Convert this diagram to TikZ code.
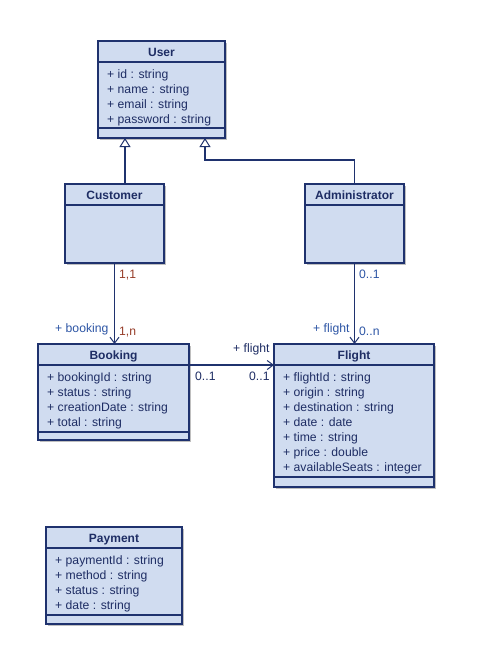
\documentclass[tikz,border=0pt]{standalone}
\usepackage{fontspec}
\setmainfont{Liberation Sans}
\usetikzlibrary{arrows.meta,shadows}
\definecolor{navy}{RGB}{31,50,110}
\definecolor{txt}{RGB}{30,45,100}
\definecolor{boxfill}{RGB}{208,220,240}
\definecolor{brownlbl}{RGB}{150,60,40}
\definecolor{bluelbl}{RGB}{45,85,165}
\tikzset{
  cls/.style={draw=navy, fill=boxfill, line width=1.1pt, anchor=north west,
    inner sep=0pt, outer sep=0pt,
    drop shadow={shadow xshift=2pt, shadow yshift=-2pt, fill=black!25, opacity=1}},
  title/.style={font=\fontsize{12}{14}\selectfont\bfseries, text=txt, anchor=base, inner sep=0pt},
  attr/.style={font=\fontsize{12.2}{14}\selectfont, text=txt, anchor=base west, inner sep=0pt},
  sep/.style={draw=navy, line width=1.1pt},
  lbl/.style={font=\fontsize{12.2}{14}\selectfont, anchor=base west, inner sep=0pt},
  conn/.style={draw=navy, line width=1.1pt},
  assoc/.style={conn, -{Straight Barb[length=6pt,width=9pt,line width=1pt]}},
  gen/.style={conn, -{Triangle[open,length=9pt,width=11pt,fill=white,line width=1pt]}},
}
\newcommand\umlclass[7]{% name, x, y, w, h, title, bottomsep offset
  \node[cls, minimum width=#4pt, minimum height=#5pt] (#1) at (#2,#3) {};
  \draw[sep] ([yshift=-21pt]#1.north west) -- ([yshift=-21pt]#1.north east);
  \draw[sep] ([yshift=#7pt]#1.south west) -- ([yshift=#7pt]#1.south east);
  \node[title] (#1-t) at ([yshift=-15pt]#1.north) {#6};
}
\newcommand\umlattrs[2]{%
  \foreach \t [count=\i] in {#2}
    \node[attr] (#1-a\i) at ([xshift=9pt,yshift={-(22.5+15*\i)*1pt}]#1.north west) {\t};
}
\begin{document}
\begin{tikzpicture}[x=1pt,y=-1pt]
\useasboundingbox[fill=white] (0,0) rectangle (479,656);

\umlclass{user}{98}{41}{127}{97}{User}{10}
\umlattrs{user}{+ id : string, + name : string, + email : string, + password : string}

\node[cls, minimum width=99pt, minimum height=79pt] (cust) at (65,184) {};
\draw[sep] ([yshift=-21pt]cust.north west) -- ([yshift=-21pt]cust.north east);
\node[title] (cust-t) at ([yshift=-15pt]cust.north) {Customer};

\node[cls, minimum width=99pt, minimum height=79pt] (admin) at (305,184) {};
\draw[sep] ([yshift=-21pt]admin.north west) -- ([yshift=-21pt]admin.north east);
\node[title] (admin-t) at ([yshift=-15pt]admin.north) {Administrator};

\umlclass{booking}{38}{344}{151}{96}{Booking}{8}
\umlattrs{booking}{+ bookingId : string, + status : string, + creationDate : string, + total : string}

\umlclass{flight}{274}{344}{160}{143}{Flight}{10}
\umlattrs{flight}{+ flightId : string, + origin : string, + destination : string, + date : date, + time : string, + price : double, + availableSeats : integer}

\umlclass{payment}{46}{527}{136}{97}{Payment}{9}
\umlattrs{payment}{+ paymentId : string, + method : string, + status : string, + date : string}

% generalizations
\draw[gen] ([xshift=10.5pt]cust.north) -- ([xshift=-36.5pt]user.south);
\coordinate (bendA) at ([yshift=24pt]admin.north);
\coordinate (bendB) at ([xshift=43.5pt]user.south |- bendA);
\draw[gen] (admin.north) -- (bendA) -- (bendB) -- ([xshift=43.5pt]user.south);

% associations
\draw[assoc] (cust.south) -- (cust.south |- booking.north);
\draw[assoc] (admin.south) -- (admin.south |- flight.north);
\draw[assoc] ([yshift=-21pt]booking.north east) -- ([yshift=-21pt]flight.north west);

% labels
\node[lbl, text=brownlbl] (l11) at (119,278.5) {1,1};
\node[lbl, text=brownlbl] (l1n) at (119,335) {1,n};
\node[lbl, text=bluelbl] (lbk) at (55,332.5) {+ booking};
\node[lbl, text=bluelbl] (la01) at (359,278.5) {0..1};
\node[lbl, text=bluelbl] (la0n) at (359,335) {0..n};
\node[lbl, text=bluelbl] (laf) at (313,332.5) {+ flight};
\node[lbl, text=txt] (lbf) at (233,352.3) {+ flight};
\node[lbl, text=txt] (lb01) at (195,380.7) {0..1};
\node[lbl, text=txt] (lf01) at (249,380.7) {0..1};
\end{tikzpicture}
\end{document}
